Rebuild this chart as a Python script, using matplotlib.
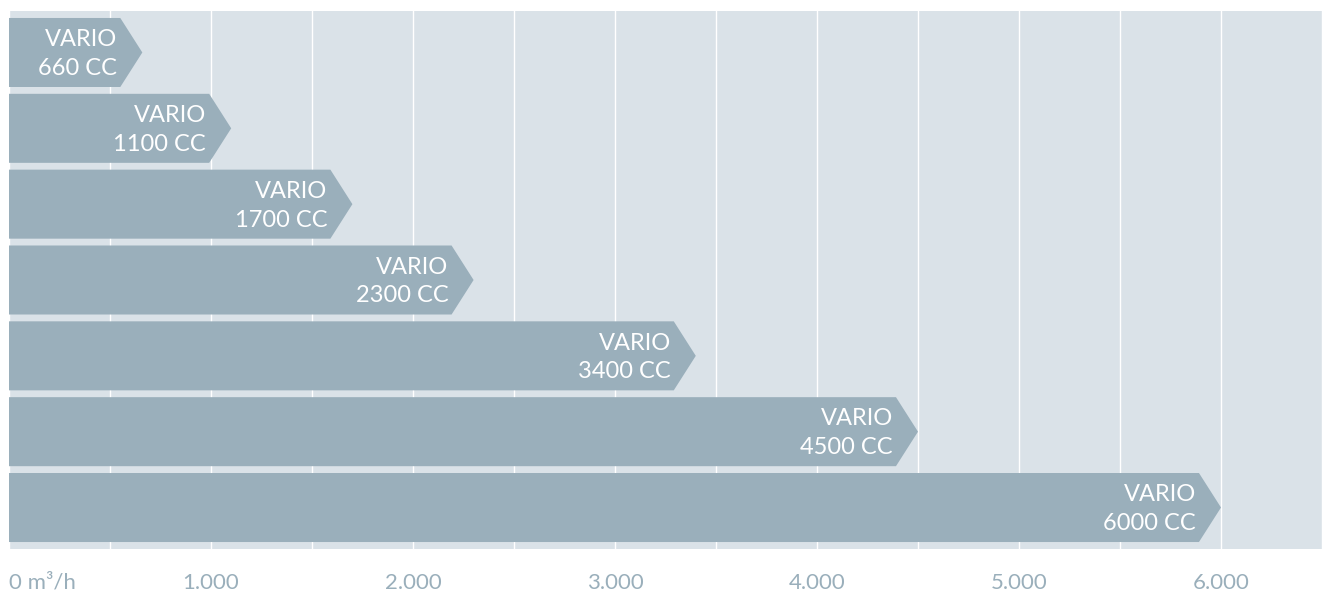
import matplotlib.pyplot as plt
from matplotlib.patches import Polygon
from matplotlib.ticker import MultipleLocator

models = ['VARIO\n660 CC', 'VARIO\n1100 CC', 'VARIO\n1700 CC', 'VARIO\n2300 CC',
          'VARIO\n3400 CC', 'VARIO\n4500 CC', 'VARIO\n6000 CC']
flow = [660, 1100, 1700, 2300, 3400, 4500, 6000]  # m3/h
tick_vals = [0, 1000, 2000, 3000, 4000, 5000, 6000]
tick_labels = ['0 m³/h', '1.000', '2.000', '3.000', '4.000', '5.000', '6.000']

bar_col = '#9aafbb'
bg_col = '#dae2e8'
txt_col = '#9aafbb'

plt.rcParams['font.family'] = ['Lato', 'DejaVu Sans']

fig = plt.figure(figsize=(13.24, 5.94), dpi=100)
ax = fig.add_axes([9 / 1324, 45 / 594, 1314 / 1324, 538 / 594])
ax.set_facecolor(bg_col)
ax.set_xlim(0, 6505)
ax.set_ylim(6.547, -0.547)

ax.xaxis.set_minor_locator(MultipleLocator(500))
ax.grid(which='both', axis='x', color='white', linewidth=1)
ax.set_axisbelow(True)

h = 0.91     # bar height in row units
tip = 109    # arrow point length in data units
for i, (name, v) in enumerate(zip(models, flow)):
    pts = [(0, i - h / 2), (v - tip, i - h / 2), (v, i), (v - tip, i + h / 2), (0, i + h / 2)]
    ax.add_patch(Polygon(pts, closed=True, facecolor=bar_col, edgecolor='none', zorder=2))
    ax.text(v - tip - 15, i + 0.02, name, ha='right', va='center', color='white',
            fontsize=17, linespacing=1.45, zorder=3)

ax.set_xticks(tick_vals)
ax.set_xticklabels(tick_labels)
ax.set_yticks([])
ax.tick_params(axis='x', which='both', length=0, pad=17, labelsize=16, labelcolor=txt_col)
ax.get_xticklabels()[0].set_horizontalalignment('left')
for s in ax.spines.values():
    s.set_visible(False)

fig.savefig('out.png', dpi=100)
